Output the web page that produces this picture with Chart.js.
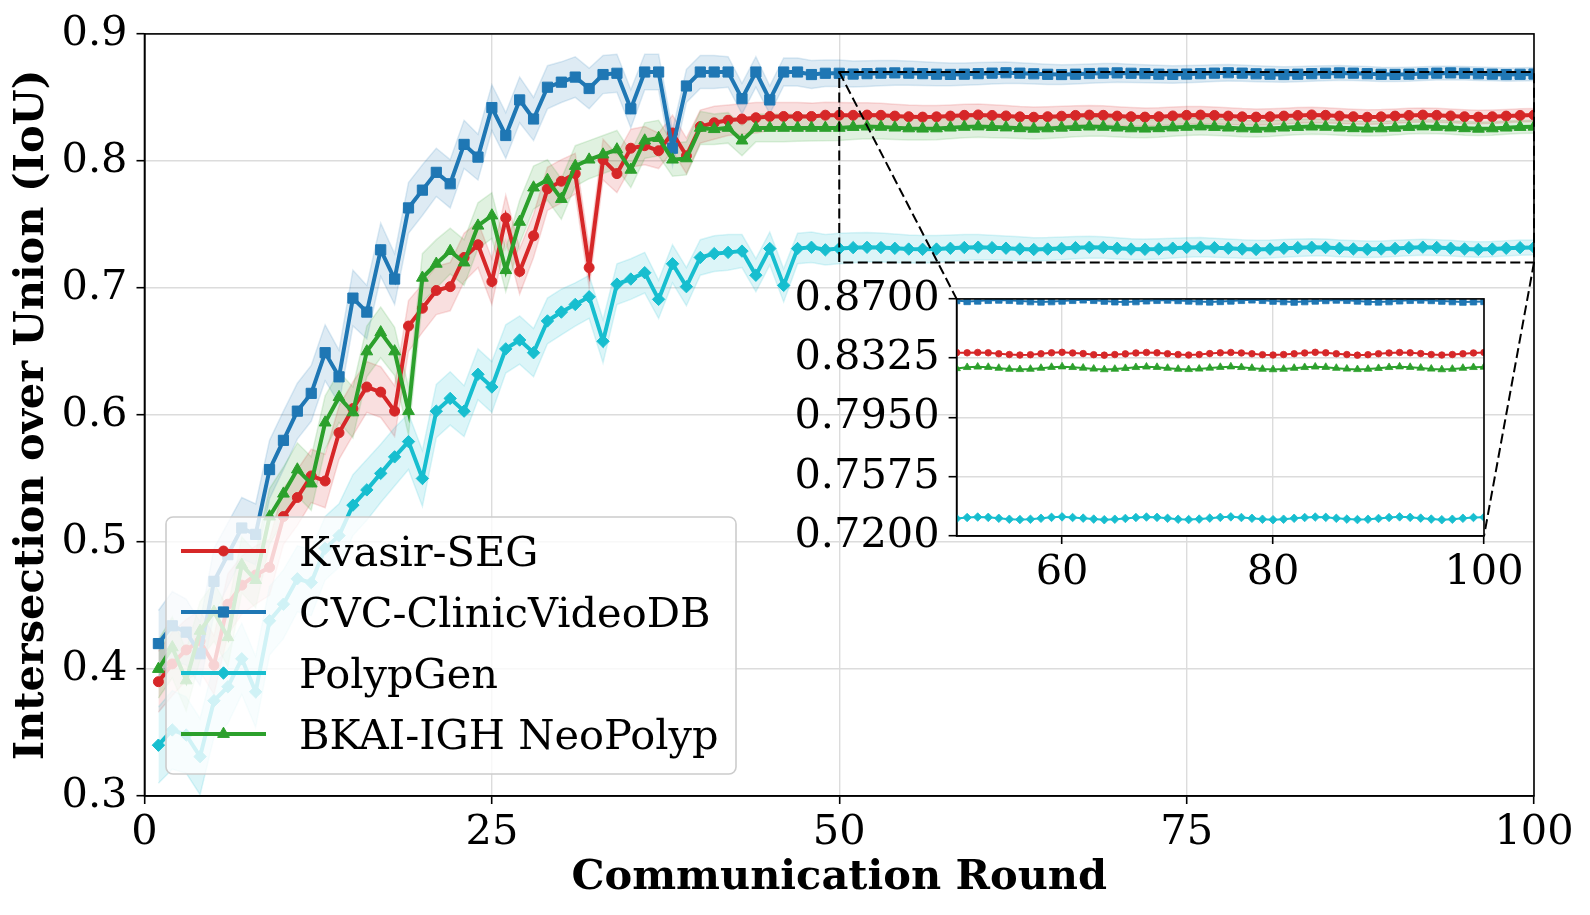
<!DOCTYPE html>
<html>
<head>
<meta charset="utf-8">
<title>IoU per communication round</title>
<script src="https://cdn.jsdelivr.net/npm/chart.js@4.4.1/dist/chart.umd.min.js"></script>
<style>
  html, body { margin: 0; padding: 0; background: #fff; }
  #wrap { position: relative; width: 1590px; height: 915px; overflow: hidden; }
  #main { position: absolute; left: 0; top: 0; }
  #inset { position: absolute; left: 770px; top: 265px; }
</style>
</head>
<body>
<div id="wrap">
  <canvas id="main" width="1590" height="915"></canvas>
  <canvas id="inset" width="760" height="340"></canvas>
</div>
<script>
// communication rounds 1..100
const rounds = Array.from({ length: 100 }, (_, i) => i + 1);

const seriesNames = ['Kvasir-SEG', 'CVC-ClinicVideoDB', 'PolypGen', 'BKAI-IGH NeoPolyp'];

const kvasirIoU = [
  .390, .404, .415, .422, .403, .451, .466, .474, .480, .520,
  .535, .552, .548, .586, .605, .622, .618, .603, .670, .684,
  .698, .701, .724, .734, .705, .755, .713, .741, .778, .784,
  .790, .716, .801, .790, .810, .812, .808, .822, .804, .827,
  .830, .832, .833, .834, .835, .835, .835, .835, .836, .836,
  .8359, .8361, .8359, .8353, .8348, .8345, .8347, .8353, .8359, .8362,
  .8358, .8354, .8347, .8344, .8348, .8352, .8358, .8361, .8359, .8353,
  .8348, .8345, .8348, .8354, .8359, .8361, .8358, .8353, .8347, .8345,
  .8348, .8353, .8358, .8362, .8359, .8353, .8348, .8344, .8347, .8353,
  .8358, .8361, .8359, .8354, .8348, .8345, .8348, .8353, .8358, .8361
];
const clinicIoU = [
  .420, .434, .429, .412, .469, .490, .511, .506, .557, .580,
  .603, .617, .649, .630, .692, .681, .730, .707, .763, .777,
  .791, .782, .813, .803, .842, .820, .848, .833, .858, .862,
  .866, .857, .868, .869, .841, .870, .870, .810, .859, .870,
  .870, .870, .849, .870, .848, .870, .870, .868, .869, .869,
  .8684, .8687, .8691, .8693, .8691, .8687, .8683, .8681, .8683, .8687,
  .8691, .8694, .8691, .8686, .8682, .8680, .8683, .8688, .8691, .8693,
  .8690, .8687, .8683, .8681, .8684, .8687, .8691, .8694, .8691, .8686,
  .8683, .8680, .8683, .8687, .8690, .8693, .8691, .8687, .8682, .8681,
  .8683, .8688, .8691, .8693, .8690, .8686, .8683, .8680, .8682, .8684
];
const polypGenIoU = [
  .340, .352, .348, .331, .375, .386, .408, .382, .438, .451,
  .471, .468, .495, .505, .529, .541, .554, .567, .579, .550,
  .603, .613, .603, .632, .622, .652, .659, .649, .674, .681,
  .687, .693, .658, .703, .707, .712, .691, .719, .701, .724,
  .727, .728, .729, .710, .731, .702, .731, .732, .730, .731,
  .7317, .7320, .7318, .7312, .7306, .7304, .7306, .7312, .7318, .7321,
  .7317, .7313, .7307, .7303, .7306, .7311, .7317, .7320, .7318, .7312,
  .7306, .7304, .7307, .7313, .7318, .7321, .7317, .7312, .7306, .7303,
  .7306, .7312, .7317, .7320, .7318, .7312, .7307, .7304, .7306, .7311,
  .7317, .7321, .7318, .7313, .7307, .7303, .7306, .7312, .7317, .7319
];
const bkaiIoU = [
  .400, .417, .391, .430, .445, .425, .482, .470, .520, .538,
  .557, .546, .594, .614, .602, .650, .665, .650, .603, .708,
  .719, .729, .720, .749, .757, .714, .752, .779, .785, .770,
  .796, .801, .805, .809, .793, .816, .818, .801, .802, .826,
  .825, .826, .816, .826, .826, .826, .826, .826, .826, .826,
  .8267, .8270, .8268, .8262, .8256, .8254, .8256, .8262, .8268, .8271,
  .8267, .8263, .8257, .8253, .8256, .8261, .8267, .8270, .8268, .8262,
  .8256, .8254, .8257, .8263, .8268, .8271, .8267, .8262, .8256, .8253,
  .8256, .8262, .8267, .8270, .8268, .8262, .8257, .8254, .8256, .8261,
  .8267, .8271, .8268, .8263, .8257, .8253, .8256, .8262, .8267, .8269
];

// standard deviation across clients (shaded band = mean +/- std)
const kvasirStd = [
  .024, .025, .024, .024, .023, .024, .023, .023, .022, .022,
  .022, .021, .021, .021, .021, .020, .020, .020, .020, .019,
  .019, .019, .019, .018, .018, .018, .018, .017, .017, .017,
  .016, .016, .016, .015, .015, .015, .014, .014, .014, .013,
  .013, .012, .012, .012, .011, .011, .011, .0105, .0102, .0100,
  .0098, .0097, .0095, .0094, .0092, .0091, .0090, .0088, .0087, .0086,
  .0084, .0083, .0082, .0080, .0079, .0078, .0077, .0076, .0075, .0074,
  .0073, .0072, .0071, .0070, .0069, .0068, .0067, .0066, .0065, .0064,
  .0063, .0062, .0062, .0061, .0060, .0059, .0058, .0058, .0057, .0056,
  .0056, .0055, .0055, .0054, .0054, .0053, .0053, .0052, .0052, .0052
];
const clinicStd = [
  .026, .027, .026, .025, .026, .025, .024, .024, .023, .023,
  .022, .022, .022, .021, .022, .021, .021, .020, .020, .020,
  .019, .019, .019, .018, .018, .018, .018, .017, .017, .016,
  .016, .016, .015, .015, .015, .014, .014, .014, .013, .013,
  .013, .012, .012, .012, .011, .011, .011, .011, .0105, .0105,
  .0103, .0101, .0099, .0097, .0095, .0093, .0092, .0090, .0088, .0087,
  .0085, .0084, .0082, .0081, .0080, .0078, .0077, .0076, .0075, .0073,
  .0072, .0071, .0070, .0069, .0068, .0067, .0066, .0065, .0064, .0063,
  .0062, .0061, .0060, .0060, .0059, .0058, .0057, .0057, .0056, .0055,
  .0055, .0054, .0054, .0053, .0053, .0053, .0052, .0052, .0052, .0052
];
const polypGenStd = [
  .030, .031, .030, .030, .029, .029, .028, .028, .027, .027,
  .026, .026, .025, .025, .024, .024, .023, .023, .022, .022,
  .021, .021, .020, .020, .020, .019, .019, .019, .018, .018,
  .017, .017, .017, .016, .016, .016, .015, .015, .015, .014,
  .014, .014, .013, .013, .013, .013, .012, .012, .012, .012,
  .0118, .0116, .0114, .0112, .0110, .0108, .0106, .0104, .0102, .0100,
  .0098, .0096, .0095, .0093, .0091, .0090, .0088, .0087, .0085, .0084,
  .0082, .0081, .0080, .0078, .0077, .0076, .0075, .0074, .0073, .0072,
  .0071, .0070, .0069, .0068, .0067, .0066, .0066, .0065, .0064, .0064,
  .0063, .0063, .0062, .0062, .0061, .0061, .0060, .0060, .0060, .0059
];
const bkaiStd = [
  .023, .024, .024, .023, .023, .023, .022, .022, .022, .021,
  .021, .021, .021, .020, .020, .020, .020, .019, .019, .019,
  .019, .018, .018, .018, .018, .017, .017, .017, .016, .016,
  .016, .015, .015, .015, .014, .014, .014, .013, .013, .013,
  .012, .012, .012, .011, .011, .011, .0105, .0103, .0101, .0100,
  .0098, .0096, .0095, .0093, .0092, .0090, .0089, .0088, .0086, .0085,
  .0084, .0082, .0081, .0080, .0079, .0078, .0076, .0075, .0074, .0073,
  .0072, .0071, .0070, .0069, .0068, .0067, .0066, .0065, .0065, .0064,
  .0063, .0062, .0061, .0061, .0060, .0059, .0058, .0058, .0057, .0056,
  .0056, .0055, .0055, .0054, .0054, .0053, .0053, .0053, .0052, .0052
];

const xTicks = [0, 25, 50, 75, 100];
const yTicks = [0.3, 0.4, 0.5, 0.6, 0.7, 0.8, 0.9];
const insetXTicks = [60, 80, 100];
const insetYTicks = [0.72, 0.7575, 0.795, 0.8325, 0.87];

const seriesValues = [kvasirIoU, clinicIoU, polypGenIoU, bkaiIoU];
const seriesStd = [kvasirStd, clinicStd, polypGenStd, bkaiStd];
const seriesColors = ['#d62728', '#1f77b4', '#17becf', '#2ca02c'];
const seriesMarkers = ['circle', 'rect', 'rectRot', 'triangle'];
const markerSize = { circle: 5, rect: 7.2, rectRot: 6.2, triangle: 6.8 };
const insetMarkerSize = { circle: 3.3, rect: 4.6, rectRot: 4.3, triangle: 4.4 };
const lineOrder = [4, 3, 2, 1]; // lower order is drawn on top in Chart.js

const FONT = '"DejaVu Serif", "Liberation Serif", serif';
const FONT_SIZE = 41.5;
Chart.defaults.font.family = FONT;
Chart.defaults.color = '#000';

function rgba(hex, a) {
  const n = parseInt(hex.slice(1), 16);
  return `rgba(${n >> 16},${(n >> 8) & 255},${n & 255},${a})`;
}

function points(values, from = 1) {
  return rounds.map((r, i) => ({ x: r, y: values[i] })).filter((p) => p.x >= from);
}

function fixedTicks(list) {
  return (scale) => { scale.ticks = list.map((value) => ({ value })); };
}

// white plot background (matters for the inset, which sits over the main chart)
const plotBackground = {
  id: 'plotBackground',
  beforeDraw(chart) {
    const { ctx, chartArea: a } = chart;
    ctx.save();
    ctx.fillStyle = '#fff';
    ctx.fillRect(a.left, a.top, a.right - a.left, a.bottom - a.top);
    ctx.restore();
  }
};

const frame = {
  id: 'frame',
  afterDatasetsDraw(chart) {
    const { ctx, chartArea: a } = chart;
    ctx.save();
    ctx.strokeStyle = '#000';
    ctx.lineWidth = 1.6;
    ctx.strokeRect(a.left, a.top, a.right - a.left, a.bottom - a.top);
    ctx.restore();
  }
};

const insetBox = { left: 770, top: 265 };
const insetRange = { x: [50, 100], y: [0.72, 0.87] };

function axisStyle(ticks, fmt) {
  return {
    type: 'linear',
    afterBuildTicks: fixedTicks(ticks),
    ticks: { font: { size: FONT_SIZE }, color: '#000', padding: 9, callback: fmt, autoSkip: false, maxRotation: 0 },
    grid: { color: '#dcdcdc', lineWidth: 1.4, tickColor: '#000', tickLength: 8, tickWidth: 1.6 },
    border: { color: '#000', width: 1.6 }
  };
}

// ---------- inset ----------
const insetSets = seriesNames.map((name, k) => ({
  label: name,
  data: points(seriesValues[k], insetRange.x[0]),
  borderColor: seriesColors[k],
  backgroundColor: seriesColors[k],
  borderWidth: 2,
  pointStyle: seriesMarkers[k],
  pointRadius: insetMarkerSize[seriesMarkers[k]],
  pointBorderWidth: 0.8,
  tension: 0,
  order: lineOrder[k]
}));

const insetX = axisStyle(insetXTicks, (v) => String(v));
insetX.min = insetRange.x[0];
insetX.max = insetRange.x[1];
insetX.ticks.padding = 4;
insetX.afterFit = (s) => { s.height = 69; };

const insetY = axisStyle(insetYTicks, (v) => v.toFixed(4));
insetY.min = insetRange.y[0];
insetY.max = insetRange.y[1];
insetY.afterFit = (s) => { s.width = 186.6; };

const insetChart = new Chart(document.getElementById('inset'), {
  type: 'line',
  data: { datasets: insetSets },
  options: {
    responsive: false,
    animation: false,
    events: [],
    layout: { padding: { top: 26, right: 46, left: 0, bottom: 0 } },
    plugins: { legend: { display: false }, tooltip: { enabled: false } },
    scales: { x: insetX, y: insetY }
  },
  plugins: [plotBackground, frame]
});

// ---------- main chart ----------
const datasets = [];
seriesNames.forEach((name, k) => {
  const color = seriesColors[k];
  const lowIndex = datasets.length;
  datasets.push({
    label: name + ' low',
    data: points(seriesValues[k].map((v, i) => v - seriesStd[k][i])),
    borderColor: rgba(color, 0.15),
    borderWidth: 1.5,
    pointRadius: 0,
    fill: false,
    tension: 0,
    order: 20 - k
  });
  datasets.push({
    label: name + ' high',
    data: points(seriesValues[k].map((v, i) => v + seriesStd[k][i])),
    borderColor: rgba(color, 0.15),
    backgroundColor: rgba(color, 0.15),
    borderWidth: 1.5,
    pointRadius: 0,
    fill: lowIndex,
    tension: 0,
    order: 20 - k
  });
  datasets.push({
    label: name,
    data: points(seriesValues[k]),
    borderColor: color,
    backgroundColor: color,
    borderWidth: 4,
    pointStyle: seriesMarkers[k],
    pointRadius: markerSize[seriesMarkers[k]],
    pointBorderWidth: 1,
    tension: 0,
    fill: false,
    order: lineOrder[k]
  });
});

const zoomMark = {
  id: 'zoomMark',
  afterDatasetsDraw(chart) {
    const { ctx, scales: { x, y } } = chart;
    const x0 = x.getPixelForValue(insetRange.x[0]);
    const x1 = x.getPixelForValue(insetRange.x[1]);
    const y0 = y.getPixelForValue(insetRange.y[1]);
    const y1 = y.getPixelForValue(insetRange.y[0]);
    const ia = insetChart.chartArea;
    ctx.save();
    ctx.strokeStyle = '#000';
    ctx.lineWidth = 2;
    ctx.setLineDash([10, 4.5]);
    ctx.strokeRect(x0, y0, x1 - x0, y1 - y0);
    ctx.beginPath();
    ctx.moveTo(x0, y0);
    ctx.lineTo(insetBox.left + ia.left, insetBox.top + ia.top);
    ctx.moveTo(x1, y1);
    ctx.lineTo(insetBox.left + ia.right, insetBox.top + ia.bottom);
    ctx.stroke();
    ctx.restore();
  }
};

function marker(ctx, style, radius, x, y) {
  if (Chart.helpers && Chart.helpers.drawPoint) {
    Chart.helpers.drawPoint(ctx, { pointStyle: style, radius, rotation: 0, borderWidth: 1 }, x, y);
    return;
  }
  ctx.beginPath();
  ctx.arc(x, y, radius, 0, Math.PI * 2);
  ctx.fill();
}

const legendBox = {
  id: 'legendBox',
  afterDraw(chart) {
    const { ctx } = chart;
    const box = { left: 166, top: 517, right: 736, bottom: 774, r: 7 };
    const rowY = [551, 612, 673, 734];
    ctx.save();
    ctx.beginPath();
    ctx.moveTo(box.left + box.r, box.top);
    ctx.arcTo(box.right, box.top, box.right, box.bottom, box.r);
    ctx.arcTo(box.right, box.bottom, box.left, box.bottom, box.r);
    ctx.arcTo(box.left, box.bottom, box.left, box.top, box.r);
    ctx.arcTo(box.left, box.top, box.right, box.top, box.r);
    ctx.closePath();
    ctx.fillStyle = 'rgba(255,255,255,0.8)';
    ctx.fill();
    ctx.strokeStyle = '#cccccc';
    ctx.lineWidth = 1.6;
    ctx.stroke();

    seriesNames.forEach((name, k) => {
      const y = rowY[k];
      ctx.strokeStyle = seriesColors[k];
      ctx.fillStyle = seriesColors[k];
      ctx.lineWidth = 4;
      ctx.beginPath();
      ctx.moveTo(181, y);
      ctx.lineTo(266, y);
      ctx.stroke();
      ctx.lineWidth = 1;
      marker(ctx, seriesMarkers[k], markerSize[seriesMarkers[k]], 223.5, y);
      ctx.fillStyle = '#000';
      ctx.font = FONT_SIZE + 'px ' + FONT;
      ctx.textAlign = 'left';
      ctx.textBaseline = 'alphabetic';
      ctx.fillText(name, 299, y + 15);
    });
    ctx.restore();
  }
};

const mainX = axisStyle(xTicks, (v) => String(v));
mainX.min = 0;
mainX.max = 100;
mainX.ticks.padding = 4;
mainX.title = { display: true, text: 'Communication Round', font: { size: FONT_SIZE, weight: 'bold' }, color: '#000', padding: { top: 0, bottom: 12 } };
mainX.afterFit = (s) => { s.height = 119; };

const mainY = axisStyle(yTicks, (v) => v.toFixed(1));
mainY.min = 0.3;
mainY.max = 0.9;
mainY.title = { display: true, text: 'Intersection over Union (IoU)', font: { size: FONT_SIZE, weight: 'bold' }, color: '#000', padding: { top: 7, bottom: 0 } };
mainY.afterFit = (s) => { s.width = 144.5; };

new Chart(document.getElementById('main'), {
  type: 'line',
  data: { datasets },
  options: {
    responsive: false,
    animation: false,
    events: [],
    layout: { padding: { top: 31, right: 56, left: 0, bottom: 0 } },
    plugins: { legend: { display: false }, tooltip: { enabled: false } },
    scales: { x: mainX, y: mainY }
  },
  plugins: [frame, zoomMark, legendBox]
});
</script>
</body>
</html>
